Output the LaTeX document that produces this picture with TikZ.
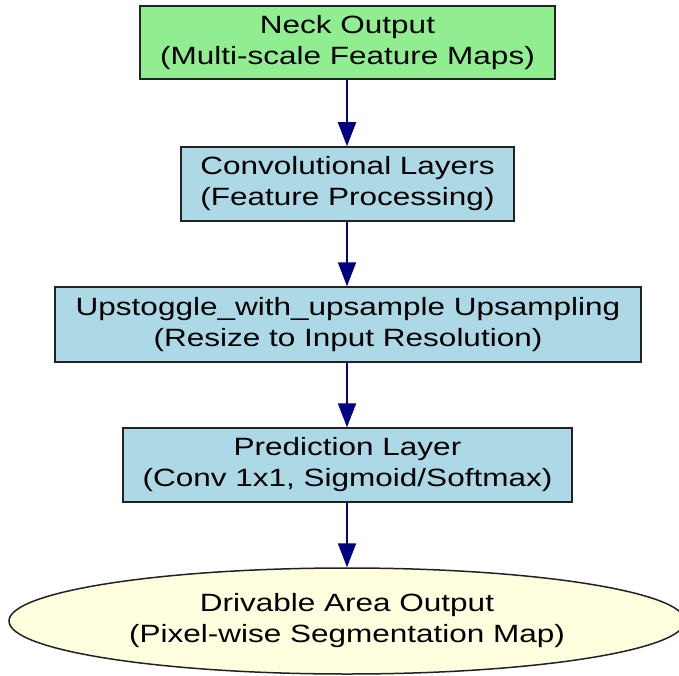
\documentclass[tikz,border=0pt]{standalone}
\usepackage{fontspec}
\setmainfont{Liberation Sans}
\usepackage{graphicx}
\usetikzlibrary{arrows.meta,shapes.geometric}
\definecolor{boxgreen}{HTML}{90EE90}
\definecolor{boxblue}{HTML}{ADD8E6}
\definecolor{boxyellow}{HTML}{FFFFE0}
\definecolor{edgeblue}{HTML}{000080}
\definecolor{bordergray}{HTML}{222222}
\newcommand\lbl[1]{\scalebox{1.26}[1]{\fontsize{25}{31}\selectfont\begin{tabular}{@{}c@{}}#1\end{tabular}}}
\tikzset{
  box/.style={draw=bordergray, line width=1.5pt, rectangle, inner sep=0pt, text=black},
  oval/.style={draw=bordergray, line width=1.5pt, ellipse, inner sep=0pt, fill=boxyellow, text=black},
  arr/.style={draw=edgeblue, line width=2pt, -{Triangle[length=24pt,width=18pt]}}
}
\begin{document}
\begin{tikzpicture}[x=1pt,y=-1pt]
\useasboundingbox (0,0) rectangle (679,676);
\fill[white] (0,0) rectangle (679,676);
\node[box, fill=boxgreen, minimum width=415pt, minimum height=73pt] (n1) at (347.5,42.5) {\lbl{Neck Output\\(Multi-scale Feature Maps)}};
\node[box, fill=boxblue, minimum width=333pt, minimum height=74pt] (n2) at (347.5,184) {\lbl{Convolutional Layers\\(Feature Processing)}};
\node[box, fill=boxblue, minimum width=586pt, minimum height=75pt] (n3) at (348,324.5) {\lbl{Upstoggle\_with\_upsample Upsampling\\(Resize to Input Resolution)}};
\node[box, fill=boxblue, minimum width=449pt, minimum height=74pt] (n4) at (347.5,465) {\lbl{Prediction Layer\\(Conv 1x1, Sigmoid/Softmax)}};
\node[oval, minimum width=676pt, minimum height=106pt] (n5) at (347,621) {\lbl{Drivable Area Output\\(Pixel-wise Segmentation Map)}};
\draw[arr] (n1.south -| 347,0) -- (n2.north -| 347,0);
\draw[arr] (n2.south -| 347,0) -- (n3.north -| 347,0);
\draw[arr] (n3.south -| 347,0) -- (n4.north -| 347,0);
\draw[arr] (n4.south -| 347,0) -- (n5.north -| 347,0);
\end{tikzpicture}
\end{document}
